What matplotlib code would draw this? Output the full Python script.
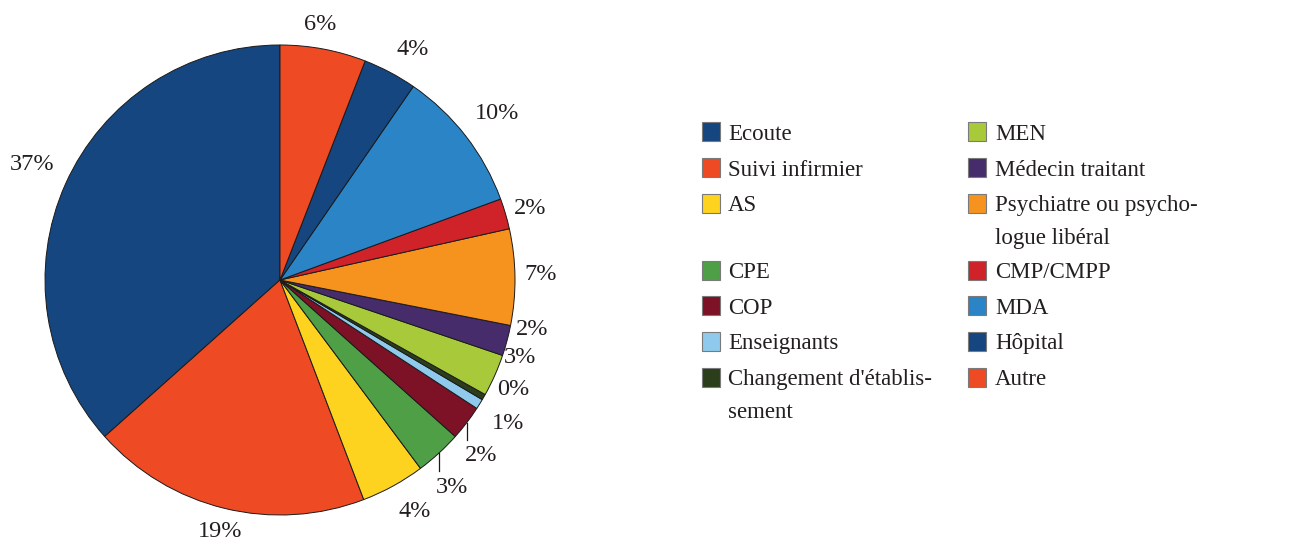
import numpy as np
import matplotlib
matplotlib.use("Agg")
import matplotlib.pyplot as plt
from matplotlib.patches import Rectangle

# slices, counterclockwise from 12 o'clock
categories = ["Ecoute", "Suivi infirmier", "AS", "CPE", "COP", "Enseignants",
              "Changement d'établis-\nsement", "MEN", "Médecin traitant",
              "Psychiatre ou psycho-\nlogue libéral", "CMP/CMPP", "MDA", "Hôpital", "Autre"]
shares = [36.6, 19.2, 4.4, 3.2, 2.4, 0.7, 0.4, 2.9, 2.1, 6.6, 2.1, 9.8, 3.7, 5.9]
pct_labels = ["37%", "19%", "4%", "3%", "2%", "1%", "0%", "3%", "2%", "7%", "2%", "10%", "4%", "6%"]
colors = ["#15467f", "#ee4a24", "#fdd31f", "#4e9f46", "#7d1126", "#8fcaec", "#2b3d1b",
          "#a8ca3a", "#472c6c", "#f5931e", "#cf2229", "#2a84c6", "#15467f", "#ee4a24"]

# label placement tweaks (degrees off the wedge middle, radius in pie radii)
label_shift = [-1.3, 0.2, 1.8, -2.5, -3.2, 0.2, 5.2, 6.6, 4.3, 1.1, 0.0, 0.2, -1.8, 1.8]
label_r = [1.17, 1.09, 1.13, 1.14, 1.13, 1.14, 1.09, 1.07, 1.09, 1.11, 1.11, 1.17, 1.14, 1.11]
leader = [3, 4]

W, H = 1300, 545
txt_color = "#231f20"
serif = "Liberation Serif"

fig = plt.figure(figsize=(W / 100, H / 100), dpi=100)

# pie: centre at (280, 280) px, radius 235 px
R = 235.0
ax = fig.add_axes([0, 0, 560 / W, 1])
wedges, _ = ax.pie(shares, colors=colors, startangle=90, counterclock=True,
                   wedgeprops=dict(edgecolor="#1a1a1a", linewidth=0.7))
ax.set_xlim(-280 / R, 280 / R)
ax.set_ylim(-(H - 280) / R, 280 / R)
ax.set_aspect("auto")
ax.axis("off")

for i, w in enumerate(wedges):
    mid = (w.theta1 + w.theta2) / 2
    a = np.deg2rad(mid + label_shift[i])
    x, y = label_r[i] * np.cos(a), label_r[i] * np.sin(a) - 2.5 / R
    ax.text(x, y, pct_labels[i], ha="center", va="center", fontsize=17.5,
            family=serif, color=txt_color)
    if i in leader:
        am = np.deg2rad(mid)
        ex, ey = np.cos(am), np.sin(am)
        ax.plot([ex, ex], [ey, ey - 0.075], color="#1a1a1a", lw=0.9)

# legend, drawn as a two-column table
half = len(categories) // 2
cols = [categories[:half], categories[half:]]
col_colors = [colors[:half], colors[half:]]
sq_x = [702, 968]
tx_x = [728, 995]
row_y = 132.0
pitch = 35.7
extra_line = 31.0
line_gap = 33.0

def fy(ypx):
    return 1 - ypx / H

for r in range(half):
    nlines = max(cols[0][r].count("\n"), cols[1][r].count("\n")) + 1
    for c in range(2):
        fig.patches.append(Rectangle((sq_x[c] / W, fy(row_y + 9.5)), 18 / W, 19 / H,
                                     transform=fig.transFigure, facecolor=col_colors[c][r],
                                     edgecolor="#7a7a7a", linewidth=0.8))
        for k, line in enumerate(cols[c][r].split("\n")):
            fig.text(tx_x[c] / W, fy(row_y + 8 + k * line_gap), line, ha="left",
                     va="baseline", fontsize=16.5, family=serif, color=txt_color)
    row_y += pitch + (nlines - 1) * extra_line

fig.savefig("out.png", dpi=100)
